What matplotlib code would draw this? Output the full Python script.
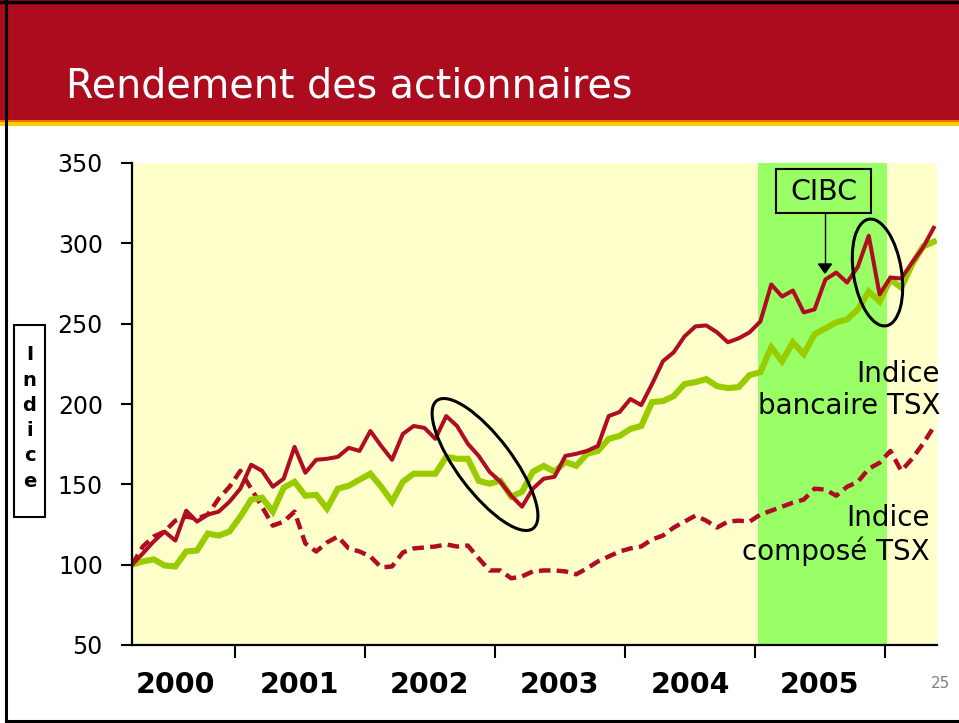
import numpy as np
import matplotlib.pyplot as plt
from matplotlib.patches import Rectangle, Ellipse, Polygon

# Monthly index values, March 2000 = 100
cibc = [100, 107, 114.4, 120.6, 115, 133.6, 126.8, 131.2, 133, 139.2,
        147.3, 162.2, 158.4, 148.5, 153.5, 173.3, 157.2, 165.3, 165.9, 167.1,
        172.7, 170.8, 183.2, 173.9, 165.3, 181.4, 186.3, 185.1, 178.3, 192.5,
        186.3, 175.2, 167.7, 157.8, 151.6, 142.9, 136.1, 147.3, 153.5, 154.7,
        167.7, 169, 170.8, 173.9, 192.5, 195, 203.1, 199.3, 212.4, 226.6,
        232.2, 242.1, 248.3, 248.9, 244.6, 238.4, 240.9, 244.6, 251.4, 274.4,
        266.9, 270.6, 257, 258.9, 277.5, 281.8, 275.6, 285.5, 304.7, 268.2,
        278.7, 278.1, 288, 297.3, 309.7]

tsx_bank = [100, 102, 103.3, 99.5, 98.9, 108.2, 108.8, 119.4, 118.1, 120.6,
            129.9, 140.5, 141.7, 133, 147.9, 151.6, 142.9, 143.5, 134.9, 147.3,
            149.1, 152.9, 156.6, 148.5, 139.2, 151.6, 156.6, 156.6, 156.6, 167.1,
            165.9, 165.9, 152.2, 150.4, 152.2, 142.3, 145.4, 157.8, 161.5, 157.8,
            164, 161.5, 169, 170.8, 178.3, 180.1, 184.5, 186.3, 201.2, 201.8,
            204.9, 212.4, 213.6, 215.5, 211.1, 209.9, 210.5, 218, 219.8, 235.3,
            226.6, 238.4, 231, 243.4, 247.1, 250.8, 252.7, 258.9, 270, 263.8,
            277.5, 272.5, 286.8, 297.9, 301]

tsx_comp = [100, 111.3, 117.5, 120.6, 127.4, 129.9, 128.7, 131.2, 141.1, 148.5,
            158.4, 147.3, 136.1, 124.3, 126.8, 133, 113.2, 108.2, 113.8, 117.5,
            110.1, 108.2, 105.1, 98.3, 98.9, 107.6, 110.1, 110.7, 111.3, 112.6,
            111.3, 111.9, 103.9, 96.4, 96.4, 91.5, 92.7, 95.8, 96.4, 96.4,
            95.8, 94, 97.7, 102, 105.1, 108.2, 110.1, 111.3, 115.7, 118.1,
            123.1, 126.8, 130.5, 127.4, 123.1, 126.8, 127.4, 126.8, 131.2, 133.6,
            136.1, 138.6, 140.5, 147.3, 146.7, 142.9, 148.5, 151.6, 159.7, 163.4,
            170.8, 158.4, 165.9, 175.2, 185.7]

years = ['2000', '2001', '2002', '2003', '2004', '2005']
year_bounds = [9.5, 21.5, 33.5, 45.5, 57.5, 69.5]
year_centers = [4.0, 15.5, 27.5, 39.5, 51.5, 63.5]
highlight = (57.8, 69.7)   # 2005 band

RED = '#B00C24'
GREEN = '#99CC00'

fig = plt.figure(figsize=(9.59, 7.23), dpi=100)
W, H = 959, 723

# main chart
ax = fig.add_axes([132 / W, 1 - 645 / H, 805 / W, 482 / H], zorder=1)
ax.set_facecolor('#FFFFCC')
ax.axvspan(*highlight, color='#99FF66', zorder=0, lw=0)

x = np.arange(len(cibc))
ax.plot(x, tsx_comp, color=RED, lw=3.2, dashes=(2.6, 1.4), solid_capstyle='butt')
ax.plot(x, tsx_bank, color=GREEN, lw=4.4, solid_joinstyle='miter')
ax.plot(x, cibc, color=RED, lw=2.9)

ax.set_xlim(0, 74.3)
ax.set_ylim(50, 350)
ax.set_yticks(range(50, 351, 50))
ax.tick_params(axis='y', labelsize=17, length=8, width=1.5, pad=13)
ax.set_xticks(year_bounds)
ax.set_xticklabels([])
ax.set_xticks(year_centers, minor=True)
ax.set_xticklabels(years, minor=True, fontsize=20.5, fontweight='bold')
ax.tick_params(axis='x', which='major', length=9, width=1.5)
ax.tick_params(axis='x', which='minor', length=0, pad=19)
for s in ['top', 'right']:
    ax.spines[s].set_visible(False)
for s in ['left', 'bottom']:
    ax.spines[s].set_linewidth(1.6)

# overlay in pixel coordinates for slide decorations and annotations
ov = fig.add_axes([0, 0, 1, 1], zorder=5)
ov.set_xlim(0, W)
ov.set_ylim(H, 0)
ov.axis('off')
ov.patch.set_alpha(0)

ov.add_patch(Rectangle((0, 0), W, 121, color='#AD0C1E', lw=0))
ov.add_patch(Rectangle((0, 120), W, 2, color='#F07000', lw=0))
ov.add_patch(Rectangle((0, 122), W, 4, color='#FFCC00', lw=0))
ov.plot([6, 6], [0, 721], color='black', lw=2.2)
ov.plot([0, W], [1.5, 1.5], color='black', lw=2.5)
ov.plot([6, W], [721, 721], color='black', lw=2.2)

ov.text(66, 97, 'Rendement des actionnaires', color='white', fontsize=28.5, va='baseline')

# vertical axis label
ov.add_patch(Rectangle((14, 325), 31, 192, fill=False, ec='black', lw=1.5))
ov.text(29.5, 418, 'I\nn\nd\ni\nc\ne', ha='center', va='center', fontsize=14,
        fontweight='bold', linespacing=1.42)

# CIBC callout
ov.add_patch(Rectangle((776, 169), 95, 44, fill=False, ec='black', lw=1.5))
ov.text(823.5, 192, 'CIBC', ha='center', va='center', fontsize=20.5)
ov.plot([825, 825], [213, 266], color='black', lw=1)
ov.add_patch(Polygon([(818.5, 264), (831.5, 264), (825, 273)], color='black'))

# ellipses
ov.add_patch(Ellipse((485, 464.5), 160, 55, angle=53, fill=False, ec='black', lw=2.2))
ov.add_patch(Ellipse((877.5, 272.5), 108, 48, angle=80.8, fill=False, ec='black', lw=2.2))

ov.text(940, 390, 'Indice\nbancaire TSX', ha='right', va='center', multialignment='right',
        fontsize=20)
ov.text(930, 535, 'Indice\ncomposé TSX', ha='right', va='center', multialignment='right',
        fontsize=20)

ov.text(941, 683, '25', ha='center', va='center', fontsize=11, color='#808080')

fig.savefig('out.png', dpi=100)
